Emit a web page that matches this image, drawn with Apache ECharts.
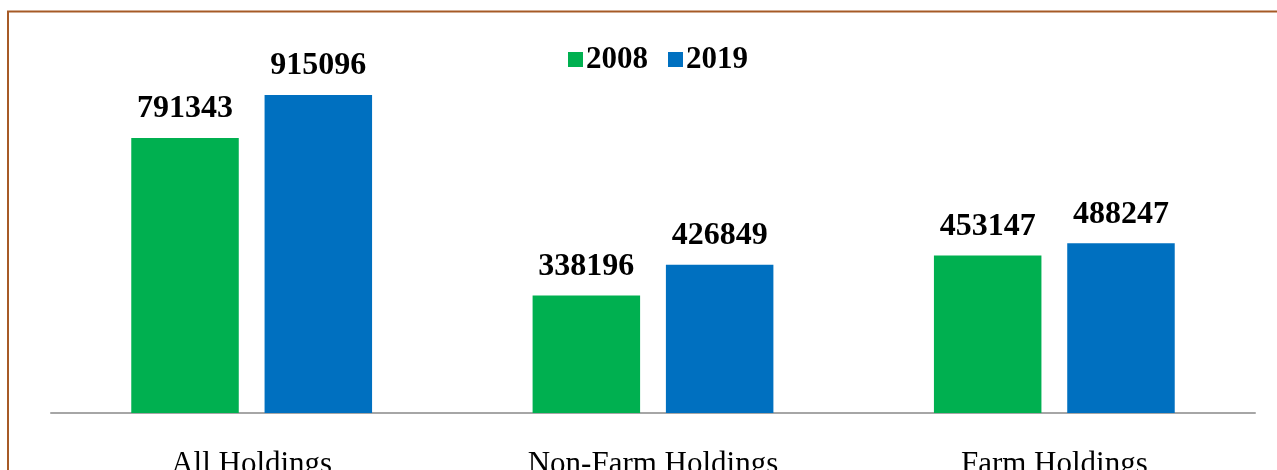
<!DOCTYPE html>
<html>
<head>
<meta charset="utf-8">
<script src="https://cdn.jsdelivr.net/npm/echarts@6/dist/echarts.min.js"></script>
<style>
html,body{margin:0;padding:0;background:#fff;}
#main{width:1277px;height:470px;}
</style>
</head>
<body>
<div id="main"></div>
<script>
const categories = ['All Holdings', 'Non-Farm Holdings', 'Farm Holdings'];
const seriesNames = ['2008', '2019'];
const values2008 = [791343, 338196, 453147];
const values2019 = [915096, 426849, 488247];

const chart = echarts.init(document.getElementById('main'));
const font = '"Liberation Serif", "Times New Roman", serif';
const labelStyle = {
  show: true, position: 'top', distance: 13,
  fontFamily: font, fontWeight: 'bold', fontSize: 32, color: '#000'
};
chart.setOption({
  backgroundColor: '#fff',
  animation: false,
  graphic: [{
    type: 'rect', silent: true,
    shape: { x: 8, y: 11.5, width: 1300, height: 500 },
    style: { fill: 'none', stroke: '#A65A26', lineWidth: 2 }
  }],
  legend: {
    left: 563, top: 39,
    itemWidth: 15, itemHeight: 15, itemGap: 20,
    icon: 'rect',
    textStyle: { fontFamily: font, fontWeight: 'bold', fontSize: 31, color: '#000', padding: [0, 0, 0, -2] },
    data: seriesNames
  },
  grid: { left: 51, right: 22, top: 65.5, bottom: 57, containLabel: false, outerBoundsMode: 'none' },
  xAxis: {
    type: 'category', data: categories,
    axisLine: { lineStyle: { color: '#A6A6A6', width: 2 } },
    axisTick: { show: false },
    axisLabel: { fontFamily: font, fontSize: 31, color: '#000', margin: 36 }
  },
  yAxis: {
    type: 'value', min: 0, max: 1000000,
    show: false, splitLine: { show: false }
  },
  series: [
    { name: seriesNames[0], type: 'bar', data: values2008, barGap: '24%', barCategoryGap: '40%',
      itemStyle: { color: '#00B050' }, label: labelStyle },
    { name: seriesNames[1], type: 'bar', data: values2019, barGap: '24%', barCategoryGap: '40%',
      itemStyle: { color: '#0070C0' }, label: labelStyle }
  ]
});
</script>
</body>
</html>
